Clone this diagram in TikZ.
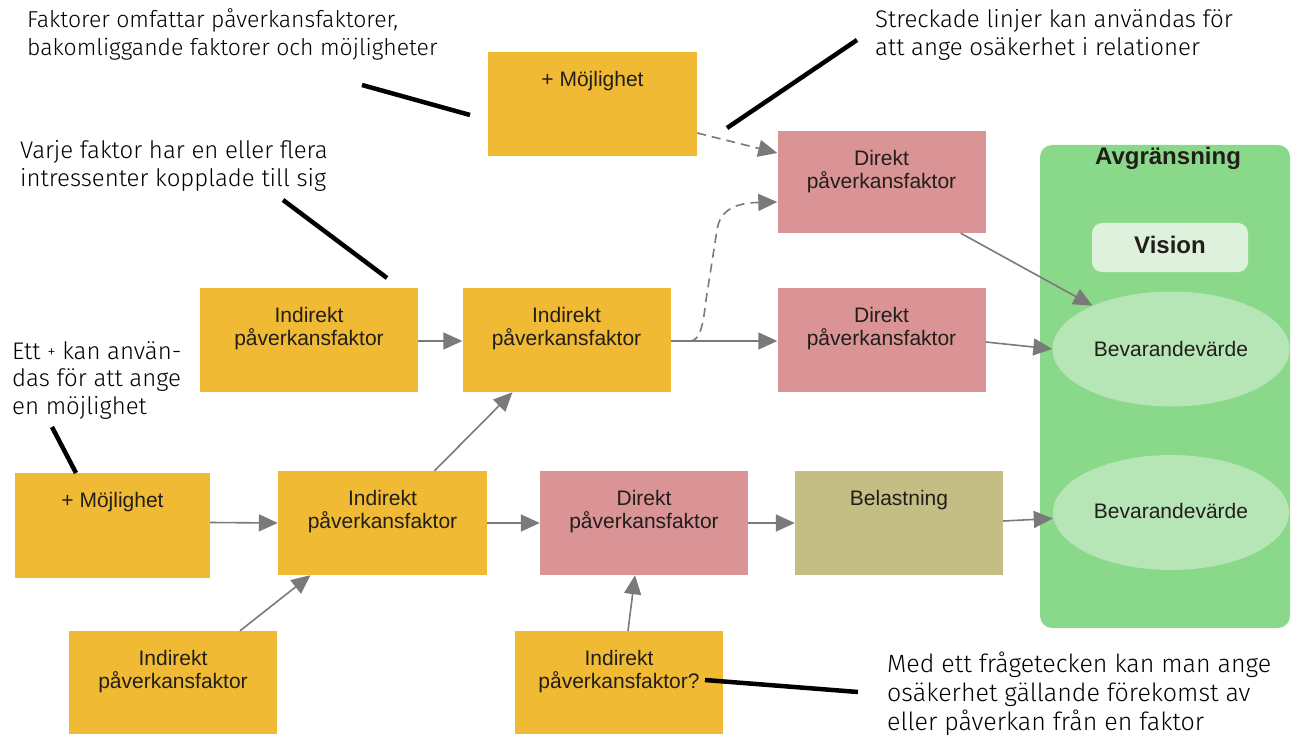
\documentclass[tikz,border=0pt]{standalone}
\usepackage{fontspec}
\setmainfont{Liberation Sans}
\newfontfamily\notefont{Fira Sans}[UprightFont=* Light]
\usetikzlibrary{arrows.meta,shapes.geometric}
\definecolor{factorfill}{RGB}{241,186,52}
\definecolor{directfill}{RGB}{218,148,150}
\definecolor{loadfill}{RGB}{196,189,132}
\definecolor{scopegreen}{RGB}{138,216,138}
\definecolor{valuefill}{RGB}{182,229,182}
\definecolor{visionfill}{RGB}{221,241,221}
\definecolor{linkgray}{RGB}{122,122,122}
\definecolor{inktext}{RGB}{34,30,26}
% text placed near the top edge of a factor box
\newcommand\boxcaption[2]{\node[boxtext] (#1-t) at ([yshift=-19pt]#1.north) {#2};}
\begin{document}
\begin{tikzpicture}[x=1pt,y=-1pt,
  fbox/.style={rectangle, inner sep=0pt, minimum width=208pt, minimum height=104pt},
  boxtext/.style={anchor=north, align=center, inner sep=0pt, text=inktext,
    font=\fontsize{21}{23}\selectfont},
  link/.style={draw=linkgray, line width=1.6pt, -{Triangle[length=19pt,width=17pt]}},
  dashlink/.style={link, dash pattern=on 9pt off 6pt},
  note/.style={anchor=north west, align=left, inner sep=0pt,
    font=\notefont\fontsize{24}{28}\selectfont},
  pointer/.style={line width=4.5pt, black}
]
\useasboundingbox (0,0) rectangle (1292,751);

% boundary with vision and values
\node[fill=scopegreen, rounded corners=12pt, minimum width=250pt, minimum height=483pt, inner sep=0pt] (scope) at (1165,386.5) {};
\node[font=\bfseries\fontsize{24}{26}\selectfont, text=inktext] (scope-t) at (1168,158) {Avgränsning};
\node[fill=visionfill, rounded corners=10pt, minimum width=156pt, minimum height=49pt, inner sep=0pt,
  font=\bfseries\fontsize{24}{26}\selectfont, text=inktext] (vision) at (1170,247.5) {\raisebox{5pt}{Vision}};
\node[ellipse, fill=valuefill, minimum width=237pt, minimum height=115pt, inner sep=0pt,
  font=\fontsize{21}{23}\selectfont, text=inktext] (e1) at (1171,349) {Bevarandevärde};
\node[ellipse, fill=valuefill, minimum width=236pt, minimum height=115pt, inner sep=0pt,
  font=\fontsize{21}{23}\selectfont, text=inktext] (e2) at (1171,512.5) {\raisebox{4pt}{Bevarandevärde}};

% factor boxes
\node[fbox, fill=factorfill, minimum width=209pt] (m1) at (592.5,104) {};
\boxcaption{m1}{+ Möjlighet}
\node[fbox, fill=directfill, minimum height=102pt] (d1) at (881.5,182) {};
\boxcaption{d1}{Direkt\\påverkansfaktor}
\node[fbox, fill=factorfill, minimum width=218pt] (i1) at (309,340) {};
\boxcaption{i1}{Indirekt\\påverkansfaktor}
\node[fbox, fill=factorfill] (i2) at (566.5,340) {};
\boxcaption{i2}{Indirekt\\påverkansfaktor}
\node[fbox, fill=directfill] (d2) at (881.5,340) {};
\boxcaption{d2}{Direkt\\påverkansfaktor}
\node[fbox, fill=factorfill, minimum width=195pt, minimum height=105pt] (m2) at (112.5,525.5) {};
\boxcaption{m2}{+ Möjlighet}
\node[fbox, fill=factorfill, minimum width=209pt] (i3) at (382.5,523) {};
\boxcaption{i3}{Indirekt\\påverkansfaktor}
\node[fbox, fill=directfill] (d3) at (644,523) {};
\boxcaption{d3}{Direkt\\påverkansfaktor}
\node[fbox, fill=loadfill] (bel) at (899,523) {};
\boxcaption{bel}{Belastning}
\node[fbox, fill=factorfill, minimum width=208pt, minimum height=103pt] (i4) at (173,682.5) {};
\boxcaption{i4}{Indirekt\\påverkansfaktor}
\node[fbox, fill=factorfill, minimum width=208pt, minimum height=103pt] (i5) at (619,682.5) {};
\boxcaption{i5}{Indirekt\\påverkansfaktor?}

% relations
\draw[dashlink] ([yshift=-29pt]m1.east) -- ([yshift=29pt]d1.west);
\draw[dashlink] ([xshift=19pt,yshift=-1pt]i2.east) .. controls (700,341) and (703,326) .. (706,300)
  -- (717,230) .. controls (720,210) and (735,203) .. ([yshift=-20pt]d1.west);
\draw[link] ([yshift=-1pt]i1.east) -- ([yshift=-1pt]i2.west);
\draw[link] ([yshift=-1pt]i2.east) -- ([yshift=-1pt]d2.west);
\draw[link] ([xshift=-25pt]d1.south east) -- (e1);
\draw[link] ([yshift=-2pt]d2.east) -- (e1.west);
\draw[link] ([yshift=3pt]m2.east) -- (i3.west);
\draw[link] ([xshift=52pt]i3.north) -- ([xshift=-54pt]i2.south);
\draw[link] (i3.east) -- (d3.west);
\draw[link] (d3.east) -- (bel.west);
\draw[link] ([yshift=2pt]bel.east) -- ([yshift=-6pt]e2.west);
\draw[link] ([xshift=67pt]i4.north) -- ([xshift=-72pt]i3.south);
\draw[link] ([xshift=9pt]i5.north) -- ([xshift=-9pt]d3.south);

% explanatory notes
\node[note, font=\notefont\fontsize{23}{28}\selectfont] (n1) at (27,8) {Faktorer omfattar påverkansfaktorer,\\bakomliggande faktorer och möjligheter};
\node[note] (n2) at (875,9) {Streckade linjer kan användas för\\att ange osäkerhet i relationer};
\node[note] (n3) at (20,140) {Varje faktor har en eller flera\\intressenter kopplade till sig};
\node[note, font=\notefont\fontsize{24}{27.5}\selectfont] (n4) at (12,341) {Ett \raisebox{2pt}{\fontsize{17}{17}\selectfont+} kan använ-\\das för att ange\\en möjlighet};
\node[note, font=\notefont\fontsize{25}{29}\selectfont] (n5) at (887,652) {Med ett frågetecken kan man ange\\osäkerhet gällande förekomst av\\eller påverkan från en faktor};

\coordinate (p1a) at (362,85);  \coordinate (p1b) at (470,115);
\coordinate (p2a) at (727,128); \coordinate (p2b) at (857,40);
\coordinate (p3a) at (283,200); \coordinate (p3b) at (387,278);
\coordinate (p4a) at (52,427);  \coordinate (p4b) at (76,473);
\coordinate (p5a) at (705,680); \coordinate (p5b) at (858,692);
\draw[pointer] (p1a) -- (p1b);
\draw[pointer] (p2a) -- (p2b);
\draw[pointer] (p3a) -- (p3b);
\draw[pointer] (p4a) -- (p4b);
\draw[pointer] (p5a) -- (p5b);
\end{tikzpicture}
\end{document}
